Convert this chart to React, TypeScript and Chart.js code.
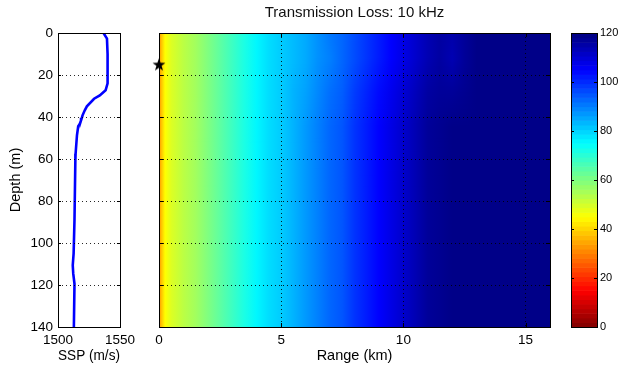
import React, { useEffect, useRef } from 'react';
import { Chart, registerables } from 'chart.js';

Chart.register(...registerables);

// ---------- data ----------
const DEPTH_TICKS = [0, 20, 40, 60, 80, 100, 120, 140];
const RANGE_TICKS = [0, 5, 10, 15];
const SSP_TICKS = [1500, 1550];
const TL_TICKS = [0, 20, 40, 60, 80, 100, 120];

const SSP_DEPTH = [0, 2.7, 10, 20, 24, 27.3, 29.7, 31.3, 34.9, 36.8, 39.2, 40.3, 41.6, 43.5, 44.4, 48.7, 57.5, 60.6, 89, 105, 110.6, 114.6, 119.4, 140];
const SSP_SPEED = [1536.7, 1539.5, 1540, 1540, 1540, 1538.4, 1533.7, 1529.1, 1523.3, 1521.6, 1519.8, 1519.3, 1518.6, 1517.4, 1516.3, 1515.3, 1514.2, 1514.0, 1513.3, 1512.6, 1511.9, 1512.3, 1513.3, 1512.8];

// transmission loss (dB) sampled at these ranges (km) ...
const TL_RANGES = [0, 0.1, 0.25, 0.5, 1, 1.5, 2, 2.5, 3, 3.5, 4, 4.5, 5, 5.5, 6, 6.5, 7, 7.5, 8, 8.5, 9, 9.5, 10, 10.5, 11, 11.5, 12, 12.5, 13, 14, 16];
// ... for these depths (m)
const TL_DEPTHS = [0, 12, 28, 45, 140];
const TL_AT_0M = [32, 38, 45, 49, 53, 56, 60, 64, 68, 72, 76, 79, 81, 83, 85, 88, 91, 93, 96, 99, 102, 105, 108, 111, 114, 116, 115, 117, 119, 119, 119];
const TL_AT_12M = [32, 38, 45, 49, 53, 56, 60, 64, 68, 72, 76, 79, 81, 83, 85, 88, 90, 93, 96, 99, 102, 105, 108, 111, 114, 116, 114, 117, 119, 119, 119];
const TL_AT_28M = [32, 38, 45, 49, 53, 56, 60, 64, 68, 72, 76, 79, 81, 84, 86, 89, 92, 94, 98, 101, 104, 107, 110, 113, 116, 117, 117, 118, 119, 119, 119];
const TL_AT_45M = [32, 38, 45, 49, 53, 56, 60, 64, 68, 72, 76, 79, 81, 84, 87, 90, 93, 95, 99, 102, 105, 108, 111, 114, 117, 118, 119, 119, 119, 119, 119];
const TL_AT_140M = [32, 38, 45, 49, 53, 56, 60, 64, 68, 72, 76, 79, 81, 84, 87, 90, 93, 95, 99, 102, 105, 108, 111, 114, 117, 118, 119, 119, 119, 119, 119];
const TL_ROWS = [TL_AT_0M, TL_AT_12M, TL_AT_28M, TL_AT_45M, TL_AT_140M];

const SOURCE_RANGE = [0];
const SOURCE_DEPTH = [15];

const TL_MIN = 0;
const TL_MAX = 120;

// ---------- helpers ----------
const FONT = '"Liberation Sans", Arial, Helvetica, sans-serif';

function jet(v: number): string {
  const t = 1 - Math.min(1, Math.max(0, (v - TL_MIN) / (TL_MAX - TL_MIN)));
  const c = (x: number) => Math.round(255 * Math.min(1, Math.max(0, x)));
  return `rgb(${c(1.5 - Math.abs(4 * t - 3))},${c(1.5 - Math.abs(4 * t - 2))},${c(1.5 - Math.abs(4 * t - 1))})`;
}

function makeStar(): HTMLCanvasElement {
  const size = 16;
  const c = document.createElement('canvas');
  c.width = size;
  c.height = size;
  const g = c.getContext('2d')!;
  const cx = size / 2, cy = size / 2 + 0.5, R = 6.8, r = 2.7;
  g.beginPath();
  for (let i = 0; i < 10; i++) {
    const rad = (i % 2 === 0 ? R : r);
    const a = -Math.PI / 2 + (i * Math.PI) / 5;
    const px = cx + rad * Math.cos(a), py = cy + rad * Math.sin(a);
    if (i === 0) g.moveTo(px, py); else g.lineTo(px, py);
  }
  g.closePath();
  g.fillStyle = '#000';
  g.fill();
  return c;
}

function framePlugin(xTicks: number[], yTicks: number[], len: number, xId = 'x', yId = 'y') {
  return {
    id: 'frameTicks',
    afterDraw(chart: any) {
      const { ctx, chartArea: a } = chart;
      const xs = chart.scales[xId];
      const ys = chart.scales[yId];
      ctx.save();
      ctx.strokeStyle = '#000';
      ctx.lineWidth = 1;
      const line = (x1: number, y1: number, x2: number, y2: number) => {
        ctx.beginPath();
        ctx.moveTo(x1, y1);
        ctx.lineTo(x2, y2);
        ctx.stroke();
      };
      if (xs) {
        xTicks.forEach((v) => {
          const px = Math.round(xs.getPixelForValue(v)) + 0.5;
          line(px, a.bottom, px, a.bottom - len);
          line(px, a.top, px, a.top + len);
        });
      }
      if (ys) {
        yTicks.forEach((v) => {
          const py = Math.round(ys.getPixelForValue(v)) + 0.5;
          line(a.left, py, a.left + len, py);
          line(a.right, py, a.right - len, py);
        });
      }
      ctx.strokeRect(Math.round(a.left) + 0.5, Math.round(a.top) + 0.5, Math.round(a.right - a.left), Math.round(a.bottom - a.top));
      ctx.restore();
    },
  };
}

const heatmapPlugin = {
  id: 'tlHeatmap',
  beforeDatasetsDraw(chart: any) {
    const { ctx, chartArea: a, scales } = chart;
    const x = scales.x, y = scales.y;
    ctx.save();
    ctx.beginPath();
    ctx.rect(a.left, a.top, a.right - a.left, a.bottom - a.top);
    ctx.clip();
    const xa = x.getPixelForValue(TL_RANGES[0]);
    const xb = x.getPixelForValue(TL_RANGES[TL_RANGES.length - 1]);
    const top = Math.floor(a.top), bottom = Math.ceil(a.bottom);
    for (let py = top; py < bottom; py++) {
      const d = y.getValueForPixel(py + 0.5);
      let k = 0;
      while (k < TL_DEPTHS.length - 2 && d > TL_DEPTHS[k + 1]) k++;
      const w = Math.min(1, Math.max(0, (d - TL_DEPTHS[k]) / (TL_DEPTHS[k + 1] - TL_DEPTHS[k])));
      const r0 = TL_ROWS[k], r1 = TL_ROWS[k + 1];
      const g = ctx.createLinearGradient(xa, 0, xb, 0);
      TL_RANGES.forEach((r, j) => {
        g.addColorStop((x.getPixelForValue(r) - xa) / (xb - xa), jet(r0[j] * (1 - w) + r1[j] * w));
      });
      ctx.fillStyle = g;
      ctx.fillRect(xa, py, xb - xa, 1);
    }
    ctx.restore();
  },
};

const colorbarPlugin = {
  id: 'colorbar',
  beforeDatasetsDraw(chart: any) {
    const { ctx, chartArea: a, scales } = chart;
    const y = scales.y;
    const n = 64;
    ctx.save();
    for (let i = 0; i < n; i++) {
      const v0 = TL_MIN + ((TL_MAX - TL_MIN) * i) / n;
      const v1 = TL_MIN + ((TL_MAX - TL_MIN) * (i + 1)) / n;
      const p0 = y.getPixelForValue(v0), p1 = y.getPixelForValue(v1);
      ctx.fillStyle = jet((v0 + v1) / 2);
      ctx.fillRect(a.left, Math.min(p0, p1), a.right - a.left, Math.abs(p1 - p0) + 0.6);
    }
    ctx.restore();
  },
};

const dotted = { color: 'rgba(0,0,0,0.85)', lineWidth: 1 };
const plain = (v: any) => String(v);

export default function App() {
  const sspRef = useRef<HTMLCanvasElement>(null);
  const mainRef = useRef<HTMLCanvasElement>(null);
  const cbRef = useRef<HTMLCanvasElement>(null);

  useEffect(() => {
    Chart.defaults.font.family = FONT;
    Chart.defaults.color = '#000';

    const tickFont = { family: FONT, size: 13.5 };
    const titleFont = { family: FONT, size: 14.5 };

    const ssp = new Chart(sspRef.current!, {
      type: 'scatter',
      data: {
        datasets: [
          {
            data: SSP_DEPTH.map((d, i) => ({ x: SSP_SPEED[i], y: d })),
            showLine: true,
            borderColor: '#0000ff',
            borderWidth: 2.6,
            pointRadius: 0,
            fill: false,
          },
        ],
      },
      options: {
        animation: false,
        responsive: false,
        layout: { padding: { left: 0, right: 10, top: 33, bottom: 0 } },
        plugins: { legend: { display: false }, tooltip: { enabled: false } },
        scales: {
          x: {
            type: 'linear',
            min: 1500,
            max: 1550,
            afterBuildTicks: (s: any) => { s.ticks = SSP_TICKS.map((v) => ({ value: v })); },
            afterFit: (s: any) => { s.height = 39; },
            grid: { display: false, drawTicks: false },
            border: { display: false },
            ticks: { font: tickFont, padding: 5, color: '#000', maxRotation: 0, callback: plain },
            title: { display: true, text: 'SSP (m/s)', font: titleFont, color: '#000', padding: { top: 0, bottom: 1 } },
          },
          y: {
            type: 'linear',
            min: 0,
            max: 140,
            reverse: true,
            afterBuildTicks: (s: any) => { s.ticks = DEPTH_TICKS.map((v) => ({ value: v })); },
            afterFit: (s: any) => { s.width = 58; },
            grid: { ...dotted, drawTicks: false, z: 1 },
            border: { display: false, dash: [1, 3] },
            ticks: { font: tickFont, padding: 5, color: '#000', callback: plain },
            title: { display: true, text: 'Depth (m)', font: titleFont, color: '#000', padding: { top: 7, bottom: 0 } },
          },
        },
      },
      plugins: [framePlugin([], DEPTH_TICKS, 3)],
    } as any);

    const main = new Chart(mainRef.current!, {
      type: 'scatter',
      data: {
        datasets: [
          {
            data: SOURCE_RANGE.map((r, i) => ({ x: r, y: SOURCE_DEPTH[i] })),
            pointStyle: makeStar(),
            pointRadius: 7,
            clip: false,
          } as any,
        ],
      },
      options: {
        animation: false,
        responsive: false,
        layout: { padding: { left: 19, right: 10, top: 0, bottom: 0 } },
        plugins: {
          legend: { display: false },
          tooltip: { enabled: false },
          title: {
            display: true,
            text: 'Transmission Loss: 10 kHz',
            font: { family: FONT, size: 15, weight: 'normal' },
            color: '#111',
            padding: { top: 4, bottom: 11 },
          },
        },
        scales: {
          x: {
            type: 'linear',
            min: 0,
            max: 16,
            afterBuildTicks: (s: any) => { s.ticks = RANGE_TICKS.map((v) => ({ value: v })); },
            afterFit: (s: any) => { s.height = 39; },
            grid: { ...dotted, drawTicks: false, z: 1 },
            border: { display: false, dash: [1, 3] },
            ticks: { font: tickFont, padding: 5, color: '#000', maxRotation: 0, callback: plain },
            title: { display: true, text: 'Range (km)', font: titleFont, color: '#000', padding: { top: 0, bottom: 1 } },
          },
          y: {
            type: 'linear',
            min: 0,
            max: 140,
            reverse: true,
            afterBuildTicks: (s: any) => { s.ticks = DEPTH_TICKS.map((v) => ({ value: v })); },
            afterFit: (s: any) => { s.width = 0; },
            grid: { ...dotted, drawTicks: false, z: 1 },
            border: { display: false, dash: [1, 3] },
            ticks: { display: false },
          },
        },
      },
      plugins: [heatmapPlugin, framePlugin(RANGE_TICKS, DEPTH_TICKS, 4)],
    } as any);

    const cb = new Chart(cbRef.current!, {
      type: 'scatter',
      data: { datasets: [{ data: [] }] },
      options: {
        animation: false,
        responsive: false,
        layout: { padding: { left: 11, right: 0, top: 33, bottom: 39 } },
        plugins: { legend: { display: false }, tooltip: { enabled: false } },
        scales: {
          x: { type: 'linear', min: 0, max: 1, display: false },
          y: {
            type: 'linear',
            position: 'right',
            min: TL_MIN,
            max: TL_MAX,
            afterBuildTicks: (s: any) => { s.ticks = TL_TICKS.map((v) => ({ value: v })); },
            afterFit: (s: any) => { s.width = 25; },
            grid: { display: false, drawTicks: false },
            border: { display: false },
            ticks: { font: { family: FONT, size: 11 }, padding: 3, color: '#000', callback: plain },
          },
        },
      },
      plugins: [colorbarPlugin, framePlugin([], TL_TICKS, 3)],
    } as any);

    return () => {
      ssp.destroy();
      main.destroy();
      cb.destroy();
    };
  }, []);

  return (
    <div style={{ position: 'fixed', left: 0, top: 0, width: 622, height: 366, background: '#fff' }}>
      <canvas ref={sspRef} width={140} height={366} style={{ position: 'absolute', left: 0, top: 0, width: 140, height: 366 }} />
      <canvas ref={mainRef} width={420} height={366} style={{ position: 'absolute', left: 140, top: 0, width: 420, height: 366 }} />
      <canvas ref={cbRef} width={62} height={366} style={{ position: 'absolute', left: 560, top: 0, width: 62, height: 366 }} />
    </div>
  );
}
